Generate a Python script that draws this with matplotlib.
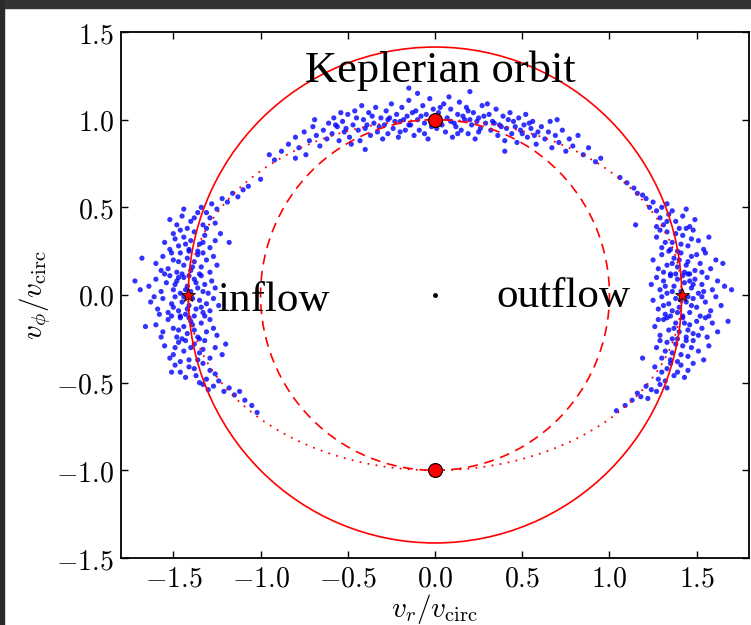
import numpy as np
import matplotlib
matplotlib.use('Agg')
from matplotlib import pyplot as plt
from matplotlib.patches import Circle, Ellipse, Rectangle

# Простые точки облаков (оценка по картинке)
inflow_pts = [
    (-1.28, 0.52), (-1.22, 0.55), (-1.16, 0.58), (-1.10, 0.60), (-1.25, 0.49), (-1.19, 0.53), (-1.31, 0.47),
    (-1.13, 0.56), (-1.07, 0.62), (-1.34, 0.50),
    (-1.45, 0.45), (-1.40, 0.42), (-1.36, 0.47), (-1.33, 0.40), (-1.29, 0.44), (-1.48, 0.40), (-1.42, 0.38),
    (-1.38, 0.44), (-1.26, 0.41), (-1.52, 0.43), (-1.31, 0.38), (-1.44, 0.49),
    (-1.55, 0.30), (-1.50, 0.35), (-1.47, 0.28), (-1.44, 0.33), (-1.41, 0.26), (-1.38, 0.36), (-1.35, 0.29),
    (-1.32, 0.34), (-1.29, 0.27), (-1.26, 0.31), (-1.52, 0.26), (-1.46, 0.37), (-1.40, 0.31), (-1.36, 0.25),
    (-1.43, 0.29), (-1.49, 0.32), (-1.33, 0.30), (-1.23, 0.35),
    (-1.60, 0.18), (-1.56, 0.22), (-1.53, 0.15), (-1.50, 0.20), (-1.48, 0.13), (-1.46, 0.24), (-1.44, 0.17),
    (-1.42, 0.21), (-1.40, 0.14), (-1.38, 0.19), (-1.36, 0.23), (-1.34, 0.16), (-1.31, 0.20), (-1.29, 0.13),
    (-1.27, 0.22), (-1.45, 0.12), (-1.51, 0.24), (-1.41, 0.25), (-1.35, 0.12), (-1.57, 0.14), (-1.39, 0.16),
    (-1.47, 0.19), (-1.33, 0.24), (-1.25, 0.17),
    (-1.64, 0.05), (-1.60, 0.09), (-1.57, 0.02), (-1.54, 0.07), (-1.52, 0.11), (-1.50, 0.03), (-1.48, 0.08),
    (-1.46, 0.01), (-1.44, 0.10), (-1.42, 0.05), (-1.40, 0.02), (-1.38, 0.09), (-1.36, 0.04), (-1.34, 0.11),
    (-1.32, 0.06), (-1.30, 0.01), (-1.28, 0.08), (-1.55, 0.12), (-1.49, 0.06), (-1.43, 0.03), (-1.37, 0.07),
    (-1.41, 0.11), (-1.47, 0.10), (-1.33, 0.02), (-1.26, 0.04), (-1.69, 0.03),
    (-1.63, -0.04), (-1.59, -0.08), (-1.56, -0.02), (-1.53, -0.10), (-1.51, -0.05), (-1.49, -0.01), (-1.47, -0.09),
    (-1.45, -0.04), (-1.43, -0.11), (-1.41, -0.06), (-1.39, -0.02), (-1.37, -0.08), (-1.35, -0.03), (-1.33, -0.10),
    (-1.31, -0.05), (-1.29, -0.09), (-1.27, -0.02), (-1.58, -0.11), (-1.50, -0.07), (-1.44, -0.01), (-1.38, -0.12),
    (-1.42, -0.08), (-1.46, -0.12), (-1.34, -0.07), (-1.24, -0.06), (-1.61, -0.01),
    (-1.60, -0.17), (-1.56, -0.21), (-1.53, -0.14), (-1.50, -0.19), (-1.48, -0.24), (-1.46, -0.13), (-1.44, -0.18),
    (-1.42, -0.22), (-1.40, -0.15), (-1.38, -0.20), (-1.36, -0.24), (-1.34, -0.16), (-1.31, -0.21), (-1.29, -0.14),
    (-1.27, -0.19), (-1.45, -0.25), (-1.51, -0.12), (-1.41, -0.13), (-1.35, -0.25), (-1.57, -0.24), (-1.39, -0.17),
    (-1.47, -0.20), (-1.32, -0.12), (-1.25, -0.23),
    (-1.55, -0.29), (-1.50, -0.34), (-1.47, -0.27), (-1.44, -0.32), (-1.41, -0.37), (-1.38, -0.28), (-1.35, -0.33),
    (-1.32, -0.26), (-1.29, -0.36), (-1.26, -0.30), (-1.52, -0.36), (-1.46, -0.38), (-1.40, -0.30), (-1.36, -0.37),
    (-1.43, -0.26), (-1.49, -0.30), (-1.33, -0.31), (-1.22, -0.34),
    (-1.46, -0.44), (-1.41, -0.41), (-1.37, -0.46), (-1.33, -0.39), (-1.29, -0.43), (-1.49, -0.40), (-1.43, -0.47),
    (-1.38, -0.42), (-1.26, -0.45), (-1.51, -0.44), (-1.31, -0.48), (-1.35, -0.50),
    (-1.27, -0.52), (-1.21, -0.55), (-1.15, -0.57), (-1.09, -0.60), (-1.24, -0.49), (-1.18, -0.53), (-1.30, -0.54),
    (-1.12, -0.55), (-1.05, -0.63), (-1.33, -0.51),
    (-1.72, 0.08), (-1.66, -0.18), (-1.68, 0.21), (-1.18, 0.30), (-1.20, -0.28), (-1.00, 0.66), (-1.02, -0.67),
]

outflow_pts = [
    (1.30, 0.50), (1.25, 0.53), (1.19, 0.57), (1.14, 0.61), (1.27, 0.48), (1.21, 0.55), (1.33, 0.52),
    (1.16, 0.58), (1.10, 0.64), (1.23, 0.50),
    (1.34, 0.46), (1.38, 0.42), (1.42, 0.45), (1.31, 0.40), (1.46, 0.39), (1.36, 0.48), (1.29, 0.44),
    (1.40, 0.38), (1.49, 0.43), (1.33, 0.42), (1.44, 0.49), (1.27, 0.39),
    (1.27, 0.33), (1.30, 0.27), (1.33, 0.36), (1.36, 0.30), (1.39, 0.25), (1.42, 0.34), (1.45, 0.28),
    (1.48, 0.37), (1.51, 0.31), (1.54, 0.26), (1.29, 0.37), (1.35, 0.26), (1.41, 0.29), (1.47, 0.32),
    (1.38, 0.35), (1.44, 0.38), (1.32, 0.30), (1.57, 0.33),
    (1.25, 0.20), (1.28, 0.15), (1.30, 0.23), (1.33, 0.17), (1.35, 0.12), (1.37, 0.21), (1.39, 0.16),
    (1.41, 0.24), (1.43, 0.13), (1.45, 0.19), (1.47, 0.22), (1.49, 0.14), (1.52, 0.18), (1.55, 0.24),
    (1.58, 0.15), (1.34, 0.25), (1.40, 0.20), (1.46, 0.12), (1.50, 0.23), (1.31, 0.13), (1.44, 0.17),
    (1.36, 0.18), (1.53, 0.13), (1.61, 0.20),
    (1.24, 0.06), (1.27, 0.10), (1.29, 0.03), (1.31, 0.08), (1.33, 0.01), (1.35, 0.11), (1.37, 0.05),
    (1.39, 0.09), (1.41, 0.02), (1.43, 0.07), (1.45, 0.12), (1.47, 0.04), (1.49, 0.09), (1.51, 0.01),
    (1.53, 0.06), (1.56, 0.10), (1.59, 0.03), (1.62, 0.08), (1.36, 0.02), (1.42, 0.11), (1.48, 0.06),
    (1.54, 0.02), (1.32, 0.05), (1.38, 0.12), (1.46, 0.08), (1.66, 0.05),
    (1.25, -0.03), (1.28, -0.08), (1.30, -0.01), (1.32, -0.11), (1.34, -0.05), (1.36, -0.09), (1.38, -0.02),
    (1.40, -0.07), (1.42, -0.12), (1.44, -0.04), (1.46, -0.10), (1.48, -0.02), (1.50, -0.07), (1.52, -0.12),
    (1.55, -0.04), (1.58, -0.09), (1.61, -0.01), (1.64, -0.06), (1.35, -0.12), (1.41, -0.03), (1.47, -0.06),
    (1.53, -0.01), (1.31, -0.06), (1.39, -0.10), (1.45, -0.01), (1.57, -0.12),
    (1.26, -0.18), (1.29, -0.23), (1.31, -0.14), (1.34, -0.20), (1.36, -0.25), (1.38, -0.16), (1.40, -0.21),
    (1.42, -0.13), (1.44, -0.24), (1.46, -0.17), (1.48, -0.22), (1.50, -0.15), (1.53, -0.19), (1.56, -0.24),
    (1.59, -0.16), (1.33, -0.13), (1.39, -0.25), (1.45, -0.20), (1.51, -0.23), (1.37, -0.19), (1.43, -0.16),
    (1.55, -0.13), (1.28, -0.14), (1.62, -0.21),
    (1.27, -0.30), (1.30, -0.36), (1.33, -0.27), (1.36, -0.33), (1.39, -0.38), (1.42, -0.29), (1.45, -0.35),
    (1.48, -0.26), (1.51, -0.32), (1.54, -0.37), (1.29, -0.26), (1.35, -0.37), (1.41, -0.34), (1.47, -0.30),
    (1.38, -0.28), (1.44, -0.26), (1.32, -0.32), (1.57, -0.29),
    (1.33, -0.42), (1.37, -0.46), (1.41, -0.40), (1.30, -0.44), (1.45, -0.43), (1.35, -0.39), (1.28, -0.48),
    (1.39, -0.44), (1.48, -0.39), (1.32, -0.49), (1.43, -0.47), (1.26, -0.41),
    (1.29, -0.51), (1.24, -0.54), (1.18, -0.58), (1.13, -0.60), (1.27, -0.55), (1.21, -0.52), (1.33, -0.53),
    (1.16, -0.56), (1.09, -0.63), (1.22, -0.59),
    (1.70, 0.03), (1.68, -0.15), (1.65, 0.18), (1.15, 0.40), (1.19, -0.36), (1.04, -0.66), (1.06, 0.67),
]

top_pts = [
    (-0.84, 0.86), (-0.80, 0.90), (-0.78, 0.84), (-0.75, 0.93), (-0.72, 0.88), (-0.70, 0.96), (-0.68, 0.91),
    (-0.66, 0.85), (-0.64, 0.94), (-0.62, 0.89), (-0.61, 0.98), (-0.88, 0.82), (-0.74, 0.80), (-0.69, 1.00),
    (-0.59, 0.92), (-0.58, 1.01), (-0.56, 0.96), (-0.55, 0.88), (-0.53, 0.99), (-0.52, 0.93), (-0.50, 1.03),
    (-0.49, 0.90), (-0.47, 0.97), (-0.46, 1.05), (-0.44, 0.94), (-0.43, 0.88), (-0.41, 1.00), (-0.40, 0.95),
    (-0.38, 1.04), (-0.37, 0.91), (-0.35, 0.98), (-0.34, 1.07), (-0.33, 0.93), (-0.31, 1.01), (-0.30, 0.89),
    (-0.57, 0.97), (-0.51, 0.95), (-0.45, 1.01), (-0.39, 0.97), (-0.36, 1.02), (-0.32, 0.96), (-0.48, 0.86),
    (-0.42, 1.08), (-0.54, 1.04),
    (-0.29, 0.97), (-0.28, 1.05), (-0.27, 0.92), (-0.26, 1.01), (-0.25, 1.09), (-0.24, 0.95), (-0.22, 1.03),
    (-0.21, 0.90), (-0.20, 0.99), (-0.19, 1.07), (-0.17, 0.94), (-0.16, 1.02), (-0.15, 1.11), (-0.14, 0.97),
    (-0.12, 0.91), (-0.11, 1.05), (-0.10, 1.00), (-0.09, 0.94), (-0.07, 1.08), (-0.06, 0.98), (-0.05, 1.03),
    (-0.04, 0.89), (-0.03, 1.12), (-0.02, 0.96), (-0.01, 1.06), (-0.23, 0.99), (-0.18, 1.00), (-0.13, 1.04),
    (-0.08, 1.02), (-0.27, 1.00), (-0.20, 0.93), (-0.15, 0.97), (-0.06, 0.92), (-0.10, 1.15),
    (0.01, 0.95), (0.02, 1.04), (0.03, 0.99), (0.05, 1.09), (0.06, 0.93), (0.07, 1.01), (0.09, 1.06),
    (0.10, 0.90), (0.11, 0.98), (0.13, 1.03), (0.14, 1.10), (0.15, 0.94), (0.17, 1.00), (0.18, 1.07),
    (0.19, 0.92), (0.21, 0.97), (0.22, 1.04), (0.23, 0.89), (0.25, 1.01), (0.26, 0.95), (0.27, 1.08),
    (0.29, 0.98), (0.04, 0.97), (0.08, 1.13), (0.12, 0.96), (0.16, 1.02), (0.20, 1.00), (0.24, 0.99),
    (0.28, 1.02), (0.03, 1.07), (0.09, 0.99), (0.13, 0.92), (0.19, 1.05), (0.25, 0.93),
    (0.31, 1.03), (0.32, 0.94), (0.33, 0.99), (0.35, 1.06), (0.36, 0.91), (0.37, 0.97), (0.39, 1.02),
    (0.40, 0.88), (0.41, 0.95), (0.43, 1.04), (0.44, 0.92), (0.45, 0.99), (0.47, 0.87), (0.48, 1.01),
    (0.49, 0.94), (0.51, 0.97), (0.52, 1.03), (0.53, 0.90), (0.55, 0.95), (0.56, 0.99), (0.58, 0.86),
    (0.59, 0.93), (0.34, 0.98), (0.38, 0.96), (0.42, 1.00), (0.46, 0.96), (0.50, 0.92), (0.54, 0.98),
    (0.57, 0.91), (0.30, 1.09),
    (0.61, 0.96), (0.63, 0.89), (0.65, 0.93), (0.67, 0.84), (0.69, 0.91), (0.71, 0.87), (0.73, 0.94),
    (0.75, 0.82), (0.77, 0.89), (0.79, 0.85), (0.82, 0.91), (0.85, 0.80), (0.88, 0.84), (0.66, 0.99),
    (-0.95, 0.80), (0.95, 0.78), (-0.15, 1.18), (0.20, 1.16), (0.40, 0.82), (-0.40, 0.83), (0.70, 1.00),
    (-0.80, 0.78), (0.92, 0.76), (-0.92, 0.77),
]

# Орбиты
kepler_radius = np.sqrt(2)     # сплошная окружность
circ_radius = 1.0              # пунктирная окружность
ellipse_axes = (np.sqrt(2), 1.0)

star_x = [-np.sqrt(2), np.sqrt(2)]
star_y = [0.0, 0.0]
dot_x = [0.0, 0.0]
dot_y = [1.0, -1.0]

tick_vals = [-1.5, -1.0, -0.5, 0.0, 0.5, 1.0, 1.5]
tick_labels = [r'$-1.5$', r'$-1.0$', r'$-0.5$', r'$0.0$', r'$0.5$', r'$1.0$', r'$1.5$']

plt.rcParams['mathtext.fontset'] = 'cm'

fig = plt.figure(figsize=(7.51, 6.25), dpi=100)
ax = fig.add_axes([121 / 751, 1 - 558 / 625, 628 / 751, 526 / 625])

for pts in (inflow_pts, outflow_pts, top_pts):
    xs, ys = zip(*pts)
    ax.scatter(xs, ys, s=14, c='#0000ff', edgecolors='none', alpha=0.8, zorder=2)

ax.add_patch(Circle((0, 0), kepler_radius, fill=False, ec='red', lw=1.2, zorder=3))
ax.add_patch(Circle((0, 0), circ_radius, fill=False, ec='red', lw=1.2,
                    ls=(0, (6, 4)), zorder=3))
ax.add_patch(Ellipse((0, 0), 2 * ellipse_axes[0], 2 * ellipse_axes[1], fill=False,
                     ec='red', lw=1.3, ls=(0, (1, 3.5)), zorder=3))

ax.plot(star_x, star_y, '*', color='red', mec='black', mew=0.6, ms=10, zorder=5)
ax.plot(dot_x, dot_y, 'o', color='red', mec='black', mew=0.8, ms=10, zorder=5)
ax.plot([0], [0], 'o', color='black', ms=2.5, zorder=5)

ax.text(0.03, 1.28, 'Keplerian orbit', family='Liberation Serif', fontsize=32,
        ha='center', va='center')
ax.text(-1.25, -0.03, 'inflow', family='Liberation Serif', fontsize=31,
        ha='left', va='center')
ax.text(0.35, -0.01, 'outflow', family='Liberation Serif', fontsize=31,
        ha='left', va='center')

ax.set_xlim(-1.8, 1.8)
ax.set_ylim(-1.5, 1.5)
ax.set_xticks(tick_vals)
ax.set_xticklabels(tick_labels)
ax.set_yticks(tick_vals)
ax.set_yticklabels(tick_labels)
ax.tick_params(axis='both', direction='in', top=True, right=True,
               length=5, width=1, labelsize=20, pad=5)
for sp in ax.spines.values():
    sp.set_linewidth(1.3)

ax.set_xlabel(r'$v_r/v_{\rm circ}$', fontsize=21, labelpad=-1)
ax.set_ylabel(r'$v_\phi/v_{\rm circ}$', fontsize=21, labelpad=2)

# Тёмная рамка скриншота
fig.patches.append(Rectangle((0, 1 - 8 / 625), 1, 8 / 625, transform=fig.transFigure,
                             color='#333333', zorder=0))
fig.patches.append(Rectangle((0, 0), 4 / 751, 1, transform=fig.transFigure,
                             color='#2a2a2a', zorder=0))

fig.savefig('out.png', dpi=100)
